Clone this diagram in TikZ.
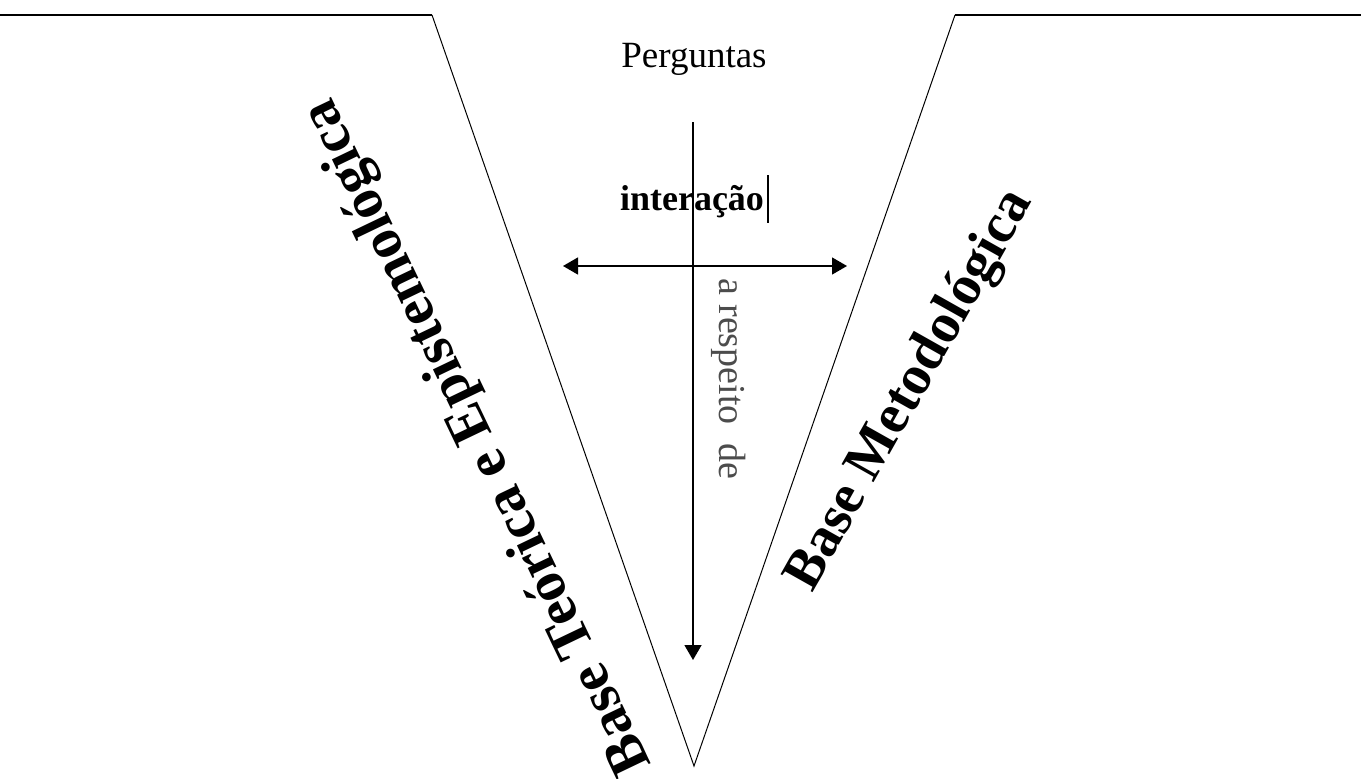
\documentclass[tikz,border=0pt]{standalone}
\usepackage{fontspec}
\setmainfont{Liberation Serif}
\usetikzlibrary{arrows.meta}
\tikzset{
  vline/.style={line width=1pt, black},
  topline/.style={line width=1.6pt, black},
  axis/.style={line width=1.4pt, black, -{Triangle[length=15pt,width=17pt]}},
  daxis/.style={line width=1.4pt, black, {Triangle[length=15pt,width=17pt]}-{Triangle[length=15pt,width=17pt]}},
  label/.style={inner sep=0pt, outer sep=0pt},
  biglabel/.style={label, font=\fontsize{56}{60}\selectfont\bfseries},
}
\begin{document}
\begin{tikzpicture}[x=1pt,y=-1pt]
\useasboundingbox (0,0) rectangle (1361,779);
% V outline
\coordinate (TL) at (0,15);
\coordinate (CL) at (432,15);
\coordinate (BV) at (694,766);
\coordinate (CR) at (955,15);
\coordinate (TR) at (1361,15);
\draw[topline] (TL) -- (CL);
\draw[vline] (CL) -- (BV) -- (CR);
\draw[topline] (CR) -- (TR);
% texts
\node[label, anchor=base, font=\fontsize{37}{40}\selectfont] (perg) at (694,67) {Perguntas};
\node[label, anchor=base, font=\fontsize{36}{40}\selectfont\bfseries] (inter) at (692,210) {interação};
\coordinate (curT) at (768,175);
\coordinate (curB) at (768,223);
\draw[line width=1.4pt] (curT) -- (curB);
\node[label, anchor=base west, rotate=-90, text=black!70, font=\fontsize{38}{40}\selectfont] (resp) at (719,278) {a respeito\ \ de};
\node[biglabel, anchor=base west, rotate=115.6, font=\fontsize{57.5}{60}\selectfont\bfseries] (bte) at (651,764) {Base Teórica e Epistemológica};
\node[biglabel, anchor=base west, rotate=60.6] (bm) at (812,593) {Base Metodológica};
% arrows
\coordinate (vtop) at (693,122);
\coordinate (vbot) at (693,660);
\coordinate (hl) at (563,266);
\coordinate (hr) at (847,266);
\draw[axis] (vtop) -- (vbot);
\draw[daxis] (hl) -- (hr);
\end{tikzpicture}
\end{document}
